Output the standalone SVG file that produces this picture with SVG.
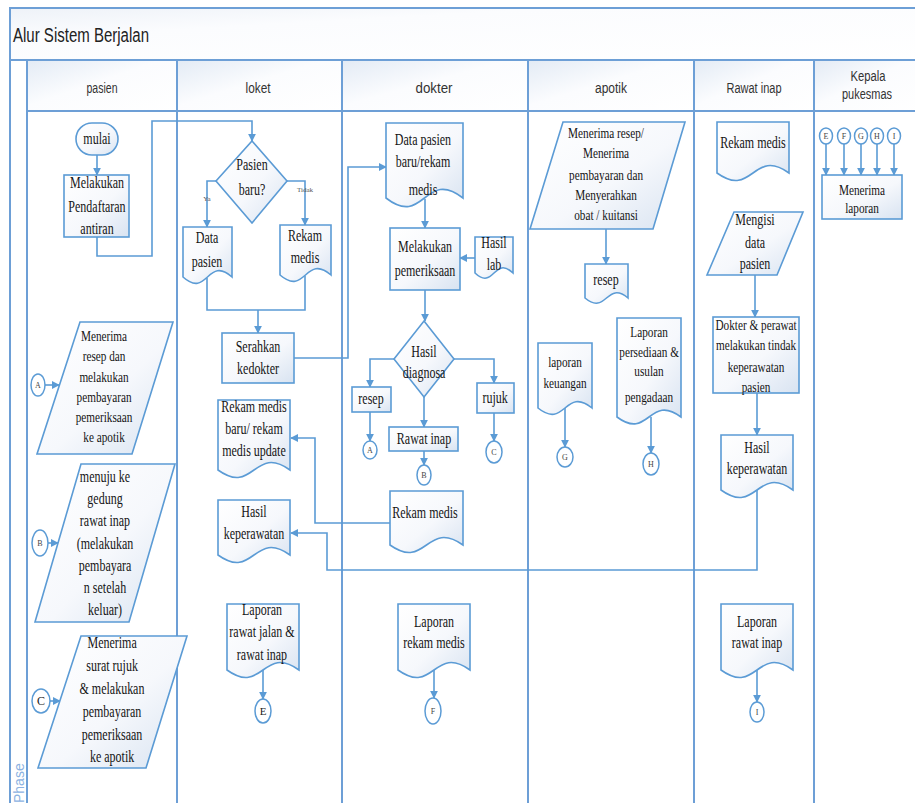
<svg xmlns="http://www.w3.org/2000/svg" width="915" height="803" viewBox="0 0 915 803">
<defs>
<linearGradient id="ng" x1="0" y1="0" x2="1" y2="1"><stop offset="0" stop-color="#ffffff"/><stop offset="0.55" stop-color="#f6f8fc"/><stop offset="1" stop-color="#d8e3f1"/></linearGradient>
<linearGradient id="hg" x1="0" y1="0" x2="1" y2="1"><stop offset="0" stop-color="#e3ebf5"/><stop offset="0.45" stop-color="#fbfcfe"/><stop offset="1" stop-color="#ffffff"/></linearGradient>
<linearGradient id="tg" x1="0" y1="0" x2="1" y2="1"><stop offset="0" stop-color="#eef2f8"/><stop offset="0.3" stop-color="#fbfcfe"/><stop offset="1" stop-color="#ffffff"/></linearGradient>
<marker id="ah" viewBox="0 0 10 10" refX="9" refY="5" markerWidth="8" markerHeight="9" markerUnits="userSpaceOnUse" orient="auto"><path d="M0,0 L10,5 L0,10 z" fill="#5b9bd5"/></marker>
<style>
.ln{fill:none;stroke:#6d9fd6;stroke-width:2}
.hd{fill:url(#hg);stroke:#6d9fd6;stroke-width:2}
.n{fill:url(#ng);stroke:#5b9bd5;stroke-width:1.6}
.ci{fill:#ffffff;stroke:#5b9bd5;stroke-width:1.5}
.c{fill:none;stroke:#5b9bd5;stroke-width:1.6;marker-end:url(#ah)}
.cn{fill:none;stroke:#5b9bd5;stroke-width:1.6}
.t{font-family:"Liberation Serif","Times New Roman",serif;font-size:16px;fill:#151515;text-anchor:middle;transform-box:fill-box;transform-origin:center;transform:scaleX(0.75)}
.s{font-size:15px}
.cl{font-family:"Liberation Serif","Times New Roman",serif;font-size:8px;fill:#444444;text-anchor:middle}
.clb{font-size:12px;fill:#222222}
.h{font-family:"Liberation Sans",Arial,sans-serif;font-size:14px;fill:#333333;text-anchor:middle}
.ti{font-family:"Liberation Sans",Arial,sans-serif;font-size:20px;fill:#222222}
.ph{font-family:"Liberation Sans",Arial,sans-serif;font-size:14px;fill:#8db3e2}
.sm{font-family:"Liberation Serif",serif;font-size:7px;fill:#555555;text-anchor:middle}
</style>
</defs>
<rect x="0" y="0" width="915" height="803" fill="#ffffff"/>
<g id="frame">
<rect x="10" y="8" width="912" height="52" fill="url(#tg)" stroke="#6d9fd6" stroke-width="2"/>
<text class="ti" x="13" y="42" textLength="136" lengthAdjust="spacingAndGlyphs">Alur Sistem Berjalan</text>
<rect class="hd" x="27" y="60" width="150" height="51"/>
<rect class="hd" x="177" y="60" width="165" height="51"/>
<rect class="hd" x="342" y="60" width="186" height="51"/>
<rect class="hd" x="528" y="60" width="166" height="51"/>
<rect class="hd" x="694" y="60" width="120" height="51"/>
<rect class="hd" x="814" y="60" width="108" height="51"/>
<rect x="10" y="60" width="17" height="750" fill="#ffffff" stroke="#6d9fd6" stroke-width="2"/>
<path class="ln" d="M177,111 V803 M342,111 V803 M528,111 V803 M694,111 V803 M814,111 V803 M27,111 H915"/>
<text class="h" x="102" y="93" textLength="31" lengthAdjust="spacingAndGlyphs">pasien</text>
<text class="h" x="258" y="93" textLength="25" lengthAdjust="spacingAndGlyphs">loket</text>
<text class="h" x="434" y="93" textLength="37" lengthAdjust="spacingAndGlyphs">dokter</text>
<text class="h" x="611" y="93" textLength="32" lengthAdjust="spacingAndGlyphs">apotik</text>
<text class="h" x="754" y="93" textLength="55" lengthAdjust="spacingAndGlyphs">Rawat inap</text>
<text class="h" x="868" y="81" textLength="35" lengthAdjust="spacingAndGlyphs">Kepala</text>
<text class="h" x="867" y="99" textLength="50" lengthAdjust="spacingAndGlyphs">pukesmas</text>
<text class="ph" transform="translate(24,803) rotate(-90)" x="0" y="0">Phase</text>
</g>
<g id="connectors">
<path class="c" d="M97,155 V175"/>
<path class="c" d="M97,237 V256 H152 V121 H252 V141"/>
<path class="c" d="M216,181 H207 V227"/>
<path class="c" d="M287,181 H305 V225"/>
<path class="cn" d="M207,278 V310 H305 V276"/>
<path class="c" d="M258,310 V333"/>
<path class="c" d="M294,358 H348 V167 H386"/>
<path class="c" d="M425,199 V228"/>
<path class="c" d="M475,258 H460"/>
<path class="c" d="M425,290 V321"/>
<path class="c" d="M394,359 H370 V387"/>
<path class="c" d="M454,359 H494 V383"/>
<path class="c" d="M424,397 V427"/>
<path class="c" d="M370,412 V441"/>
<path class="c" d="M494,413 V441"/>
<path class="c" d="M424,451 V465"/>
<path class="c" d="M390,523 H315 V438 H291"/>
<path class="c" d="M757,490 V570 H327 V533 H291"/>
<path class="c" d="M263,670 V699"/>
<path class="c" d="M434,670 V698"/>
<path class="c" d="M606,229 V264"/>
<path class="c" d="M565,408 V447"/>
<path class="c" d="M651,417 V453"/>
<path class="c" d="M755,275 V317"/>
<path class="c" d="M757,393 V435"/>
<path class="c" d="M757,670 V702"/>
<path class="c" d="M45,385 H59"/>
<path class="c" d="M48,543 H58"/>
<path class="c" d="M50,701 H60"/>
<path class="c" d="M826,144 V175"/>
<path class="c" d="M844,144 V175"/>
<path class="c" d="M861,144 V175"/>
<path class="c" d="M877,144 V175"/>
<path class="c" d="M894,144 V175"/>
<text class="sm" x="207" y="201">Ya</text>
<text class="sm" x="305" y="192">Tidak</text>
</g>
<g id="mulai"><rect class="n" x="76" y="123" width="42" height="32" rx="16"/><text class="t" x="97" y="144">mulai</text></g>
<g id="pendaftaran"><rect class="n" x="64" y="175" width="65" height="62"/><text class="t" x="97" y="188">Melakukan</text><text class="t" x="97" y="212">Pendaftaran</text><text class="t" x="97" y="234">antiran</text></g>
<g id="para-a"><polygon class="n" points="80,322 173,322 132,454 37,454"/><text class="t s" x="104" y="341">Menerima</text><text class="t s" x="104" y="361">resep dan</text><text class="t s" x="104" y="382">melakukan</text><text class="t s" x="104" y="402">pembayaran</text><text class="t s" x="104" y="422">pemeriksaan</text><text class="t s" x="104" y="442">ke apotik</text></g>
<g id="para-b"><polygon class="n" points="81,464 175,464 129,622 35,622"/><text class="t" x="105" y="482">menuju ke</text><text class="t" x="105" y="504">gedung</text><text class="t" x="105" y="526">rawat inap</text><text class="t" x="105" y="549">(melakukan</text><text class="t" x="105" y="571">pembayara</text><text class="t" x="105" y="593">n setelah</text><text class="t" x="105" y="615">keluar)</text></g>
<g id="para-c"><polygon class="n" points="81,636 187,636 146,768 38,768"/><text class="t" x="112" y="648">Menerima</text><text class="t" x="112" y="671">surat rujuk</text><text class="t" x="112" y="694">&amp; melakukan</text><text class="t" x="112" y="717">pembayaran</text><text class="t" x="112" y="740">pemeriksaan</text><text class="t" x="112" y="762">ke apotik</text></g>
<g id="circ-a1"><ellipse class="ci" cx="38" cy="385" rx="7" ry="11"/><text class="cl" x="38" y="388">A</text></g>
<g id="circ-b1"><ellipse class="ci" cx="40" cy="543" rx="8" ry="13"/><text class="cl" x="40" y="546">B</text></g>
<g id="circ-c1"><ellipse class="ci" cx="41" cy="701" rx="9" ry="12"/><text class="cl clb" x="41" y="705">C</text></g>
<g id="pasien-baru"><polygon class="n" points="252,141 287,181 252,223 216,181"/><text class="t" x="252" y="170">Pasien</text><text class="t" x="252" y="195">baru?</text></g>
<g id="data-pasien"><path class="n" d="M183,227 H232 V277 C207.5,255 207.5,299 183,277 Z"/><text class="t" x="207" y="243">Data</text><text class="t" x="207" y="267">pasien</text></g>
<g id="rekam-medis-1"><path class="n" d="M280,225 H331 V275 C305.5,253 305.5,297 280,275 Z"/><text class="t" x="305" y="241">Rekam</text><text class="t" x="305" y="263">medis</text></g>
<g id="serahkan"><rect class="n" x="222" y="333" width="72" height="50"/><text class="t" x="258" y="352">Serahkan</text><text class="t" x="258" y="374">kedokter</text></g>
<g id="rekam-update"><path class="n" d="M218,400 H290 V470 C254,444 254,496 218,470 Z"/><text class="t" x="254" y="412">Rekam medis</text><text class="t" x="254" y="434">baru/ rekam</text><text class="t" x="254" y="456">medis update</text></g>
<g id="hasil-kep-1"><path class="n" d="M218,500 H290 V555 C254,529 254,581 218,555 Z"/><text class="t" x="254" y="517">Hasil</text><text class="t" x="254" y="539">keperawatan</text></g>
<g id="lap-rawat-jalan"><path class="n" d="M227,604 H299 V670 C263,644 263,696 227,670 Z"/><text class="t" x="262" y="615">Laporan</text><text class="t" x="262" y="637">rawat jalan &amp;</text><text class="t" x="262" y="660">rawat inap</text></g>
<g id="circ-e1"><ellipse class="ci" cx="263" cy="711" rx="8" ry="12"/><text class="cl clb" x="263" y="715" style="font-size:11px">E</text></g>
<g id="data-pasien-baru"><path class="n" d="M386,123 H463 V198 C424.5,168 424.5,228 386,198 Z"/><text class="t" x="423" y="145">Data pasien</text><text class="t" x="423" y="167">baru/rekam</text><text class="t" x="423" y="195">medis</text></g>
<g id="pemeriksaan"><rect class="n" x="390" y="228" width="70" height="62"/><text class="t" x="425" y="252">Melakukan</text><text class="t" x="425" y="276">pemeriksaan</text></g>
<g id="hasil-lab"><path class="n" d="M475,237 H513 V273 C494,255 494,291 475,273 Z"/><text class="t" x="494" y="248">Hasil</text><text class="t" x="494" y="270">lab</text></g>
<g id="hasil-diagnosa"><polygon class="n" points="424,321 454,359 424,397 394,359"/><text class="t" x="424" y="357">Hasil</text><text class="t" x="424" y="378">diagnosa</text></g>
<g id="resep-d"><rect class="n" x="352" y="387" width="39" height="25"/><text class="t" x="371" y="404">resep</text></g>
<g id="rujuk"><rect class="n" x="477" y="383" width="37" height="30"/><text class="t" x="495" y="403">rujuk</text></g>
<g id="rawat-inap-d"><rect class="n" x="389" y="427" width="69" height="24"/><text class="t" x="424" y="444">Rawat inap</text></g>
<g id="circ-a2"><ellipse class="ci" cx="370" cy="450" rx="7" ry="9"/><text class="cl" x="370" y="453">A</text></g>
<g id="circ-c2"><ellipse class="ci" cx="494" cy="452" rx="8" ry="11"/><text class="cl" x="494" y="455">C</text></g>
<g id="circ-b2"><ellipse class="ci" cx="424" cy="475" rx="7" ry="10"/><text class="cl" x="424" y="478">B</text></g>
<g id="rekam-medis-d"><path class="n" d="M390,491 H463 V545 C426.5,519 426.5,571 390,545 Z"/><text class="t" x="425" y="518">Rekam medis</text></g>
<g id="lap-rekam-medis"><path class="n" d="M398,604 H470 V670 C434,644 434,696 398,670 Z"/><text class="t" x="434" y="627">Laporan</text><text class="t" x="434" y="648">rekam medis</text></g>
<g id="circ-f1"><ellipse class="ci" cx="433" cy="711" rx="8" ry="13"/><text class="cl" x="433" y="714">F</text></g>
<g id="para-apotik"><polygon class="n" points="563,122 685,122 653,229 530,229"/><text class="t s" x="606" y="138">Menerima resep/</text><text class="t s" x="606" y="158">Menerima</text><text class="t s" x="606" y="180">pembayaran dan</text><text class="t s" x="606" y="200">Menyerahkan</text><text class="t s" x="606" y="220">obat / kuitansi</text></g>
<g id="resep-a"><path class="n" d="M585,264 H628 V298 C606.5,280 606.5,316 585,298 Z"/><text class="t" x="606" y="285">resep</text></g>
<g id="lap-keuangan"><path class="n" d="M538,343 H592 V408 C565,386 565,430 538,408 Z"/><text class="t s" x="565" y="367">laporan</text><text class="t s" x="565" y="388">keuangan</text></g>
<g id="lap-persediaan"><path class="n" d="M617,318 H681 V417 C649,393 649,441 617,417 Z"/><text class="t s" x="649" y="337">Laporan</text><text class="t s" x="649" y="357">persediaan &amp;</text><text class="t s" x="649" y="376">usulan</text><text class="t s" x="649" y="402">pengadaan</text></g>
<g id="circ-g1"><ellipse class="ci" cx="565" cy="457" rx="8" ry="10"/><text class="cl" x="565" y="460">G</text></g>
<g id="circ-h1"><ellipse class="ci" cx="651" cy="464" rx="8" ry="11"/><text class="cl" x="651" y="467">H</text></g>
<g id="rekam-medis-r"><path class="n" d="M717,122 H789 V173 C753,147 753,199 717,173 Z"/><text class="t" x="753" y="148">Rekam medis</text></g>
<g id="mengisi"><polygon class="n" points="734,212 803,212 777,275 707,275"/><text class="t" x="755" y="225">Mengisi</text><text class="t" x="755" y="248">data</text><text class="t" x="755" y="269">pasien</text></g>
<g id="tindakan"><rect class="n" x="713" y="317" width="86" height="76"/><text class="t s" x="756" y="330">Dokter &amp; perawat</text><text class="t s" x="756" y="350">melakukan tindak</text><text class="t s" x="756" y="372">keperawatan</text><text class="t s" x="756" y="392">pasien</text></g>
<g id="hasil-kep-2"><path class="n" d="M721,435 H793 V490 C757,464 757,516 721,490 Z"/><text class="t" x="757" y="453">Hasil</text><text class="t" x="757" y="474">keperawatan</text></g>
<g id="lap-rawat-inap"><path class="n" d="M721,604 H793 V670 C757,644 757,696 721,670 Z"/><text class="t" x="757" y="627">Laporan</text><text class="t" x="757" y="648">rawat inap</text></g>
<g id="circ-i1"><ellipse class="ci" cx="757" cy="712" rx="7" ry="10"/><text class="cl" x="757" y="715">I</text></g>
<g id="circ-e2"><ellipse class="ci" cx="826" cy="136" rx="6.5" ry="8"/><text class="cl" x="826" y="139">E</text></g>
<g id="circ-f2"><ellipse class="ci" cx="844" cy="136" rx="6.5" ry="8"/><text class="cl" x="844" y="139">F</text></g>
<g id="circ-g2"><ellipse class="ci" cx="861" cy="136" rx="6.5" ry="8"/><text class="cl" x="861" y="139">G</text></g>
<g id="circ-h2"><ellipse class="ci" cx="877" cy="136" rx="6.5" ry="8"/><text class="cl" x="877" y="139">H</text></g>
<g id="circ-i2"><ellipse class="ci" cx="894" cy="136" rx="6.5" ry="8"/><text class="cl" x="894" y="139">I</text></g>
<g id="menerima-laporan"><rect class="n" x="822" y="175" width="80" height="44"/><text class="t s" x="862" y="195">Menerima</text><text class="t s" x="862" y="213">laporan</text></g>
</svg>
